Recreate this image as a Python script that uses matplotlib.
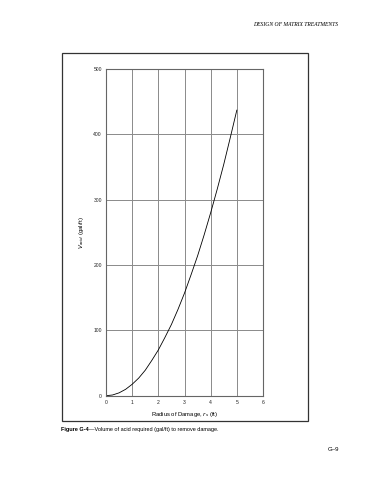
import matplotlib
matplotlib.use("Agg")
import matplotlib.pyplot as plt
from matplotlib.patches import Rectangle

# radius of damage (ft) and acid volume (gal/ft)
radius = [0, 0.25, 0.5, 0.75, 1, 1.25, 1.5, 1.75, 2, 2.25, 2.5, 2.75, 3,
          3.25, 3.5, 3.75, 4, 4.25, 4.5, 4.75, 5]
volume = [0, 1.1, 4.4, 9.8, 17.5, 27, 39, 54, 70, 89, 109, 132, 157,
          185, 214, 246, 280, 316, 354, 395, 437]

x_ticks = [0, 1, 2, 3, 4, 5, 6]
y_ticks = [0, 100, 200, 300, 400, 500]

plt.rcParams['font.family'] = ['Liberation Sans', 'DejaVu Sans']

fig = plt.figure(figsize=(3.7, 4.8), dpi=100)
fig.patch.set_facecolor('white')

# outer frame round the plot
fig.patches.append(Rectangle((0.1676, 0.1229), 0.665, 0.7667, transform=fig.transFigure,
                             fill=False, edgecolor='#333333', linewidth=0.9))

ax = fig.add_axes([0.2865, 0.1756, 0.4243, 0.6807])
ax.plot(radius, volume, color='black', linewidth=0.6)

ax.set_xlim(0, 6)
ax.set_ylim(0, 500)
ax.set_xticks(x_ticks)
ax.set_yticks(y_ticks)
ax.tick_params(labelsize=3.6, length=0, pad=3, colors='#222222')
ax.grid(True, color='#8a8a8a', linewidth=0.7)
for s in ax.spines.values():
    s.set_color('#666666')
    s.set_linewidth(0.8)

ax.set_xlabel('Radius of Damage, $r_s$ (ft)', fontsize=4.2, labelpad=4)
ax.set_ylabel('$V_{acid}$ (gal/ft)', fontsize=4.2, labelpad=5)

# page header, caption and page number
fig.text(0.915, 0.948, 'DESIGN OF MATRIX TREATMENTS', family='Liberation Serif',
         style='italic', fontsize=4.1, ha='right', va='center')
cap = fig.text(0.166, 0.106, 'Figure G-4', fontsize=4.0, weight='bold', va='center')
fig.canvas.draw()
bb = cap.get_window_extent().transformed(fig.transFigure.inverted())
fig.text(bb.x1, 0.106, '\u2014Volume of acid required (gal/ft) to remove damage.',
         fontsize=4.0, va='center')
fig.text(0.9, 0.063, 'G\u20139', fontsize=4.4, va='center', ha='center')

fig.savefig('out.png', dpi=100)
